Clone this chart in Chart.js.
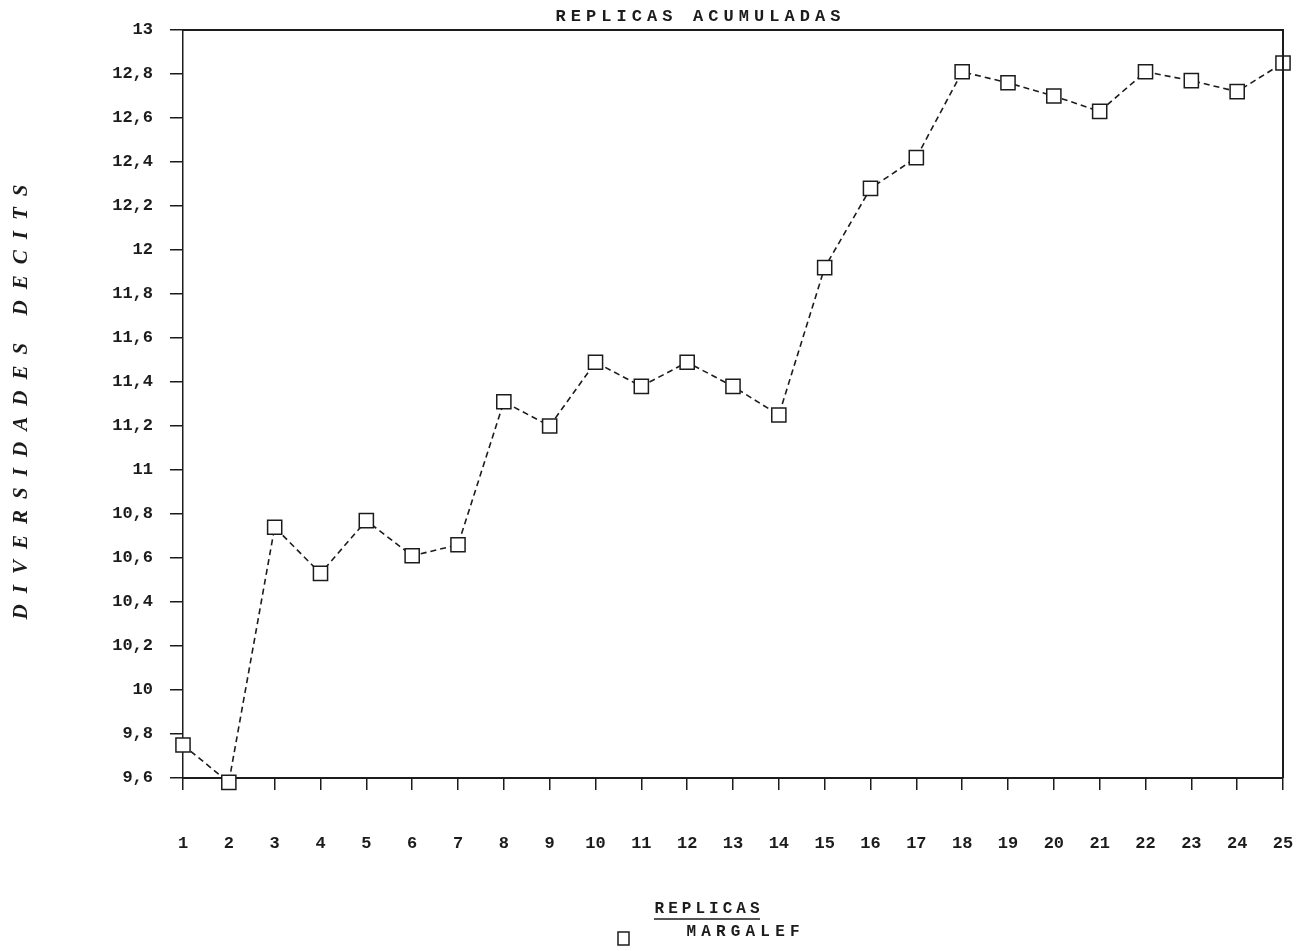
<!DOCTYPE html>
<html>
<head>
<meta charset="utf-8">
<script src="https://cdn.jsdelivr.net/npm/chart.js@4.4.0/dist/chart.umd.min.js"></script>
<style>
  html, body { margin: 0; padding: 0; background: #fff; }
  #wrap { width: 1301px; height: 951px; }
</style>
</head>
<body>
<div id="wrap"><canvas id="chart" width="1301" height="951"></canvas></div>
<script>
// replicas acumuladas (x) and Margalef diversity in decits (y)
const REPLICAS = ['1', '2', '3', '4', '5', '6', '7', '8', '9', '10', '11', '12', '13',
                  '14', '15', '16', '17', '18', '19', '20', '21', '22', '23', '24', '25'];
const MARGALEF = [9.75, 9.58, 10.74, 10.53, 10.77, 10.61, 10.66, 11.31, 11.20, 11.49, 11.38, 11.49, 11.38,
                  11.25, 11.92, 12.28, 12.42, 12.81, 12.76, 12.70, 12.63, 12.81, 12.77, 12.72, 12.85];
const Y_TICKS = [9.6, 9.8, 10, 10.2, 10.4, 10.6, 10.8, 11, 11.2, 11.4, 11.6, 11.8, 12, 12.2, 12.4, 12.6, 12.8, 13];

const TITLE = 'REPLICAS ACUMULADAS';
const Y_TITLE = 'DIVERSIDADES DECITS';
const X_TITLE = 'REPLICAS';
const SERIES_NAME = 'MARGALEF';

const INK = '#1c1c1c';
const MONO = '"Liberation Mono", "DejaVu Sans Mono", monospace';

// draws text stretched with letter spacing so it spans a given width
function spacedText(ctx, text, cx, cy, width, font, angle) {
    ctx.save();
    ctx.font = font;
    ctx.letterSpacing = '0px';
    const w = ctx.measureText(text).width;
    const ls = Math.max(0, (width - w) / (text.length - 1));
    ctx.letterSpacing = ls + 'px';
    ctx.translate(cx, cy);
    ctx.rotate(angle || 0);
    ctx.fillStyle = INK;
    ctx.textAlign = 'left';
    ctx.textBaseline = 'middle';
    ctx.fillText(text, -width / 2, 0);
    ctx.restore();
}

const decorations = {
    id: 'decorations',
    afterDraw(chart) {
        const ctx = chart.ctx;
        const a = chart.chartArea;

        // top and right frame lines
        ctx.save();
        ctx.strokeStyle = INK;
        ctx.lineWidth = 2;
        ctx.beginPath();
        ctx.moveTo(a.left, a.top);
        ctx.lineTo(a.right, a.top);
        ctx.lineTo(a.right, a.bottom);
        ctx.stroke();
        ctx.restore();

        spacedText(ctx, TITLE, 698, 17, 285, 'bold 17px ' + MONO, 0);
        spacedText(ctx, Y_TITLE, 22, 402, 435, 'italic bold 21px "Liberation Serif", "DejaVu Serif", serif', -Math.PI / 2);

        // axis title, underlined
        spacedText(ctx, X_TITLE, 707, 909, 105, 'bold 16px ' + MONO, 0);
        ctx.save();
        ctx.strokeStyle = INK;
        ctx.lineWidth = 1.5;
        ctx.beginPath();
        ctx.moveTo(654, 919);
        ctx.lineTo(760, 919);
        ctx.stroke();

        // legend marker + series name
        ctx.lineWidth = 1.5;
        ctx.strokeRect(618, 932, 11, 13);
        ctx.restore();
        spacedText(ctx, SERIES_NAME, 743, 932, 113, 'bold 16px ' + MONO, 0);
    }
};

new Chart(document.getElementById('chart'), {
    type: 'line',
    data: {
        labels: REPLICAS,
        datasets: [{
            label: SERIES_NAME,
            data: MARGALEF,
            borderColor: INK,
            borderWidth: 1.6,
            borderDash: [6, 4],
            tension: 0,
            pointStyle: 'rect',
            pointRadius: 10,
            pointBorderWidth: 1.5,
            pointBorderColor: INK,
            pointBackgroundColor: '#fff',
            clip: false
        }]
    },
    options: {
        responsive: false,
        animation: false,
        layout: { padding: { left: 0, top: 30, right: 18, bottom: 0 } },
        plugins: {
            legend: { display: false },
            title: { display: false },
            tooltip: { enabled: false }
        },
        scales: {
            x: {
                type: 'category',
                offset: false,
                afterFit: s => { s.height = 173; s.paddingLeft = 0; s.paddingRight = 0; },
                ticks: {
                    color: INK,
                    font: { family: MONO, size: 17, weight: 'bold' },
                    padding: 44,
                    autoSkip: false,
                    maxRotation: 0
                },
                grid: { drawOnChartArea: false, tickLength: 12, color: INK, lineWidth: 1.5 },
                border: { color: INK, width: 2 }
            },
            y: {
                min: 9.6,
                max: 13,
                afterBuildTicks: s => { s.ticks = Y_TICKS.map(v => ({ value: v })); },
                afterFit: s => { s.width = 183; s.paddingTop = 0; s.paddingBottom = 0; },
                ticks: {
                    color: INK,
                    font: { family: MONO, size: 17, weight: 'bold' },
                    padding: 17,
                    callback: v => String(v).replace('.', ',')
                },
                grid: { drawOnChartArea: false, tickLength: 13, color: INK, lineWidth: 1.5 },
                border: { color: INK, width: 1.5, dash: [7, 2] }
            }
        }
    },
    plugins: [decorations]
});
</script>
</body>
</html>
